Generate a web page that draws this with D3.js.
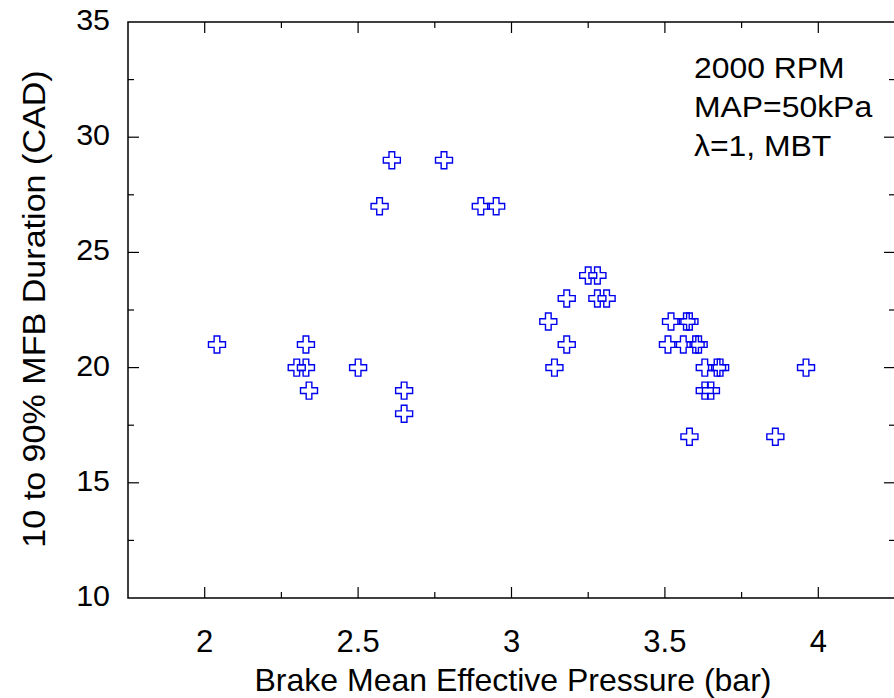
<!DOCTYPE html>
<html>
<head>
    <meta charset="utf-8">
    <title>MFB duration vs BMEP</title>
    <script src="https://d3js.org/d3.v7.min.js"></script>
    <style>
      body { margin: 0; background: #fff; }
      text { font-family: "Liberation Sans", Arial, sans-serif; fill: #000; }
    </style>
</head>
<body>
<script type="text/javascript">
    // BMEP (bar) and 10-90% MFB duration (CAD)
    var bmep = [2.04, 2.33, 2.30, 2.33, 2.34, 2.50, 2.57, 2.61, 2.65, 2.65,
                2.78, 2.90, 2.95, 3.12, 3.14, 3.18, 3.18, 3.25, 3.28, 3.28,
                3.31, 3.52, 3.57, 3.58, 3.51, 3.56, 3.60, 3.61, 3.63, 3.67,
                3.68, 3.63, 3.65, 3.58, 3.86, 3.96];
    var duration = [21, 21, 20, 20, 19, 20, 27, 29, 19, 18,
                    29, 27, 27, 22, 20, 23, 21, 24, 24, 23,
                    23, 22, 22, 22, 21, 21, 21, 21, 20, 20,
                    20, 19, 19, 17, 17, 20];
    var xTicks = [2, 2.5, 3, 3.5, 4];
    var yTicks = [10, 15, 20, 25, 30, 35];
    var notes = ['2000 RPM', 'MAP=50kPa', '\u03bb=1, MBT'];

    var W = 894, H = 698;
    var pL = 128, pT = 22, pR = 895, pB = 598;

    var x = d3.scaleLinear().domain([1.75, 4.25]).range([pL, pR]);
    var y = d3.scaleLinear().domain([10, 35]).range([pB, pT]);

    var svg = d3.select('body').append('svg')
        .attr('width', W)
        .attr('height', H);

    // frame
    svg.append('rect')
      .attr('x', pL).attr('y', pT)
      .attr('width', pR - pL).attr('height', pB - pT)
      .attr('fill', 'none').attr('stroke', '#000').attr('stroke-width', 1.5);

    var xMinor = d3.range(2.25, 4.25, 0.5);
    var yMinor = d3.range(12.5, 35, 5);

    // inward ticks on all four sides
    function xt(vals, len) {
      [[pB, -len], [pT, len]].forEach(function(e) {
        svg.append('g').selectAll('line').data(vals).enter().append('line')
          .attr('x1', x).attr('x2', x)
          .attr('y1', e[0]).attr('y2', e[0] + e[1])
          .attr('stroke', '#000').attr('stroke-width', 1.2);
      });
    }
    function yt(vals, len) {
      [[pL, len], [pR, -len]].forEach(function(e) {
        svg.append('g').selectAll('line').data(vals).enter().append('line')
          .attr('y1', y).attr('y2', y)
          .attr('x1', e[0]).attr('x2', e[0] + e[1])
          .attr('stroke', '#000').attr('stroke-width', 1.2);
      });
    }
    xt(xTicks, 11); xt(xMinor, 6);
    yt(yTicks.slice(1, -1), 11); yt(yMinor, 6);

    // tick labels
    svg.append('g').selectAll('text').data(xTicks).enter().append('text')
      .attr('x', x).attr('y', 652)
      .attr('text-anchor', 'middle')
      .style('font-size', '31px')
      .text(function(d) { return d; });

    svg.append('g').selectAll('text').data(yTicks).enter().append('text')
      .attr('transform', function(d) {
        return 'translate(110,' + (y(d) + 8) + ') scale(1.05,1)';
      })
      .attr('text-anchor', 'end')
      .style('font-size', '29px')
      .text(function(d) { return d; });

    // axis titles
    svg.append('text')
      .attr('x', 513).attr('y', 691)
      .attr('text-anchor', 'middle')
      .style('font-size', '32px')
      .text('Brake Mean Effective Pressure (bar)');

    svg.append('text')
      .attr('transform', 'translate(45,309) rotate(-90) scale(1.1,1)')
      .attr('text-anchor', 'middle')
      .style('font-size', '31px')
      .text('10 to 90% MFB Duration (CAD)');

    // annotation
    svg.append('g').selectAll('text').data(notes).enter().append('text')
      .attr('transform', function(d, i) {
        return 'translate(694,' + (78 + i * 39) + ') scale(1.1,1)';
      })
      .style('font-size', '29px')
      .text(function(d) { return d; });

    // open cross markers
    var s = 8.5, a = 8.5 / 3;
    var cross = 'M' + (-a) + ',' + (-s) + 'H' + a + 'V' + (-a) + 'H' + s + 'V' + a +
                'H' + a + 'V' + s + 'H' + (-a) + 'V' + a + 'H' + (-s) + 'V' + (-a) +
                'H' + (-a) + 'Z';

    svg.append('g').selectAll('path').data(bmep).enter().append('path')
      .attr('d', cross)
      .attr('transform', function(d, i) {
        return 'translate(' + x(d) + ',' + y(duration[i]) + ')';
      })
      .attr('fill', 'none')
      .attr('stroke', '#0000ee')
      .attr('stroke-width', 1.4);
</script>
</body>
</html>
